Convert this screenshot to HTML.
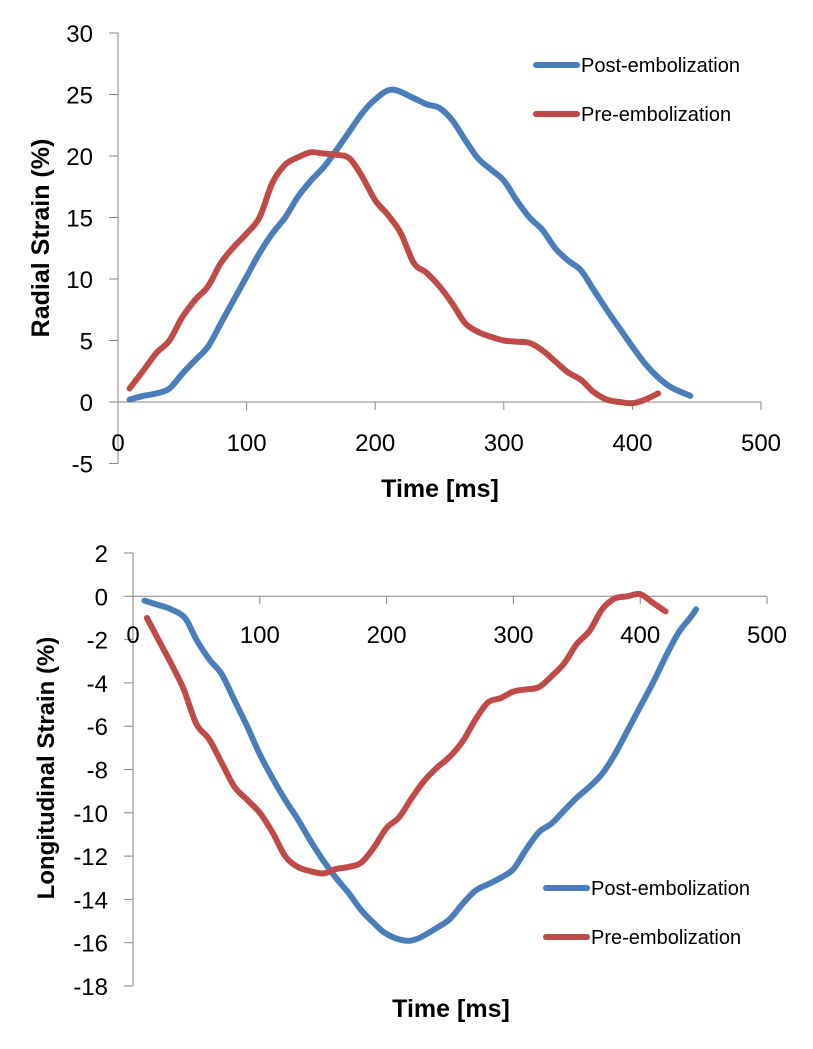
<!DOCTYPE html>
<html><head><meta charset="utf-8"><style>
body{margin:0;background:#fff;}
svg{display:block;font-family:"Liberation Sans",sans-serif;}
</style></head><body>
<svg id="svg" width="813" height="1049" viewBox="0 0 813 1049"></svg>
<script>
const NS="http://www.w3.org/2000/svg";
const svg=document.getElementById('svg');
const xTicks=[0,100,200,300,400,500];
const topYTicks=[30,25,20,15,10,5,0,-5];
const botYTicks=[2,0,-2,-4,-6,-8,-10,-12,-14,-16,-18];
const radialPostT=[9,20,30,40,50,60,70,80,90,100,110,120,130,140,150,160,170,180,190,200,213,230,240,250,260,270,280,290,300,310,320,330,340,350,360,370,380,390,400,410,420,430,445];
const radialPostV=[0.2,0.5,0.7,1.1,2.3,3.4,4.5,6.4,8.3,10.2,12.1,13.7,15,16.7,18,19.1,20.5,22,23.5,24.6,25.4,24.7,24.2,23.9,22.9,21.3,19.8,18.9,18,16.4,15,14,12.5,11.5,10.7,9.1,7.5,6,4.5,3.1,2.0,1.2,0.5];
const radialPreT=[9,20,30,40,50,60,70,80,90,100,110,120,130,140,150,160,170,180,190,200,210,220,230,240,250,260,270,280,290,300,310,320,330,340,350,360,370,380,390,400,410,420];
const radialPreV=[1.1,2.6,4.0,5.0,6.9,8.3,9.4,11.3,12.6,13.7,15,17.8,19.3,19.9,20.3,20.2,20.1,19.8,18.3,16.4,15.2,13.7,11.3,10.5,9.4,8.0,6.4,5.7,5.3,5.0,4.9,4.8,4.2,3.3,2.4,1.8,0.8,0.2,0,-0.1,0.2,0.7];
const longPostT=[9,20,30,41,50,60,70,80,90,100,110,120,130,140,150,160,170,180,190,200,214,225,240,250,260,270,280,290,300,310,320,330,340,350,360,370,380,390,400,410,420,430,440,444];
const longPostV=[-0.2,-0.4,-0.6,-1.0,-2.0,-2.9,-3.6,-4.8,-6.0,-7.3,-8.4,-9.4,-10.3,-11.3,-12.2,-13.0,-13.7,-14.5,-15.1,-15.6,-15.9,-15.8,-15.3,-14.9,-14.2,-13.6,-13.3,-13.0,-12.6,-11.7,-10.9,-10.5,-9.9,-9.3,-8.8,-8.2,-7.3,-6.2,-5.1,-4.0,-2.8,-1.7,-0.95,-0.6];
const longPreT=[11,20,30,40,50,60,70,80,90,100,110,120,130,140,150,160,170,180,190,200,210,220,230,240,250,260,270,280,290,300,310,320,330,340,350,360,370,380,390,400,410,420];
const longPreV=[-1.0,-2.0,-3.1,-4.3,-5.9,-6.6,-7.7,-8.8,-9.4,-10.0,-10.9,-12.0,-12.5,-12.7,-12.8,-12.6,-12.5,-12.3,-11.6,-10.7,-10.2,-9.3,-8.5,-7.9,-7.4,-6.7,-5.7,-4.9,-4.7,-4.4,-4.3,-4.2,-3.7,-3.1,-2.2,-1.6,-0.6,-0.1,0,0.1,-0.3,-0.7];

function el(tag,attrs,parent,text){const e=document.createElementNS(NS,tag);for(const k in attrs)e.setAttribute(k,attrs[k]);if(text!==undefined)e.textContent=text;(parent||svg).appendChild(e);return e;}
function smooth(pts){let d=`M${pts[0][0]},${pts[0][1]}`;for(let i=0;i<pts.length-1;i++){const p0=pts[i-1]||pts[i],p1=pts[i],p2=pts[i+1],p3=pts[i+2]||p2;d+=` C${p1[0]+(p2[0]-p0[0])/6},${p1[1]+(p2[1]-p0[1])/6} ${p2[0]-(p3[0]-p1[0])/6},${p2[1]-(p3[1]-p1[1])/6} ${p2[0]},${p2[1]}`;}return d;}

function chart(c){
  const g=el('g',{});
  
  
  const X=t=>c.x0+t*c.xs, Y=v=>c.y0-v*c.ys;
  const yTop=Y(c.yTicks[0]), yBot=Y(c.yTicks[c.yTicks.length-1]);
  const ax=el('line',{x1:c.x0,y1:yTop,x2:c.x0,y2:yBot,stroke:'#868686','stroke-width':1},g);
  
  const xa=el('line',{x1:c.x0,y1:c.y0,x2:X(500),y2:c.y0,stroke:'#868686','stroke-width':1},g);
  
  c.yTicks.forEach(v=>{
    el('line',{x1:c.x0-9,y1:Y(v),x2:c.x0,y2:Y(v),stroke:'#868686'},g);
    const t=el('text',{x:c.ylx,y:Y(v)+9,'text-anchor':'end','font-size':24,fill:'#000'},g,String(v));
    
  });
  xTicks.forEach(v=>{
    el('line',{x1:X(v),y1:c.y0,x2:X(v),y2:c.y0+8,stroke:'#868686'},g);
    const t=el('text',{x:X(v),y:c.xly,'text-anchor':'middle','font-size':24,fill:'#000'},g,String(v));
    
  });
  const series=[[c.postT,c.postV,'#4a7ebb','post-embolization-line'],[c.preT,c.preV,'#be4b48','pre-embolization-line']];
  series.forEach(s=>{
    const p=el('path',{d:smooth(s[0].map((t,i)=>[X(t),Y(s[1][i])])),fill:'none',stroke:s[2],'stroke-width':6,'stroke-linecap':'round','stroke-linejoin':'round'},g);
    
  });
  const xt=el('text',{x:c.xtx,y:c.xty,'text-anchor':'middle','font-size':25,'font-weight':'bold'},g,'Time [ms]');
  
  const yt=el('text',{x:0,y:0,transform:`translate(${c.ytx},${c.yty}) rotate(-90)`,'text-anchor':'middle','font-size':c.ytfs,'font-weight':'bold'},g,c.ytitle);
  
  [['Post-embolization','#4a7ebb',c.lgy],['Pre-embolization','#be4b48',c.lgy+49]].forEach(l=>{
    const lg=el('g',{},g);
    
    el('line',{x1:c.lgx,y1:l[2],x2:c.lgx+41,y2:l[2],stroke:l[1],'stroke-width':6,'stroke-linecap':'round'},lg);
    el('text',{x:c.lgx+45,y:l[2]+7,'font-size':20},lg,l[0]);
  });
}
chart({name:'radial-strain-chart',x0:118,xs:1.286,y0:402,ys:12.3,yTicks:topYTicks,ylx:93,xly:451,
  postT:radialPostT,postV:radialPostV,preT:radialPreT,preV:radialPreV,xtx:440,xty:497,ytx:49,yty:238,ytfs:25,ytitle:'Radial Strain (%)',lgx:536,lgy:65});
chart({name:'longitudinal-strain-chart',x0:133,xs:1.268,y0:596.3,ys:21.65,yTicks:botYTicks,ylx:108,xly:643,
  postT:longPostT,postV:longPostV,preT:longPreT,preV:longPreV,xtx:451,xty:1017,ytx:54,yty:768,ytfs:24,ytitle:'Longitudinal Strain (%)',lgx:546,lgy:888});
</script>
</body></html>
